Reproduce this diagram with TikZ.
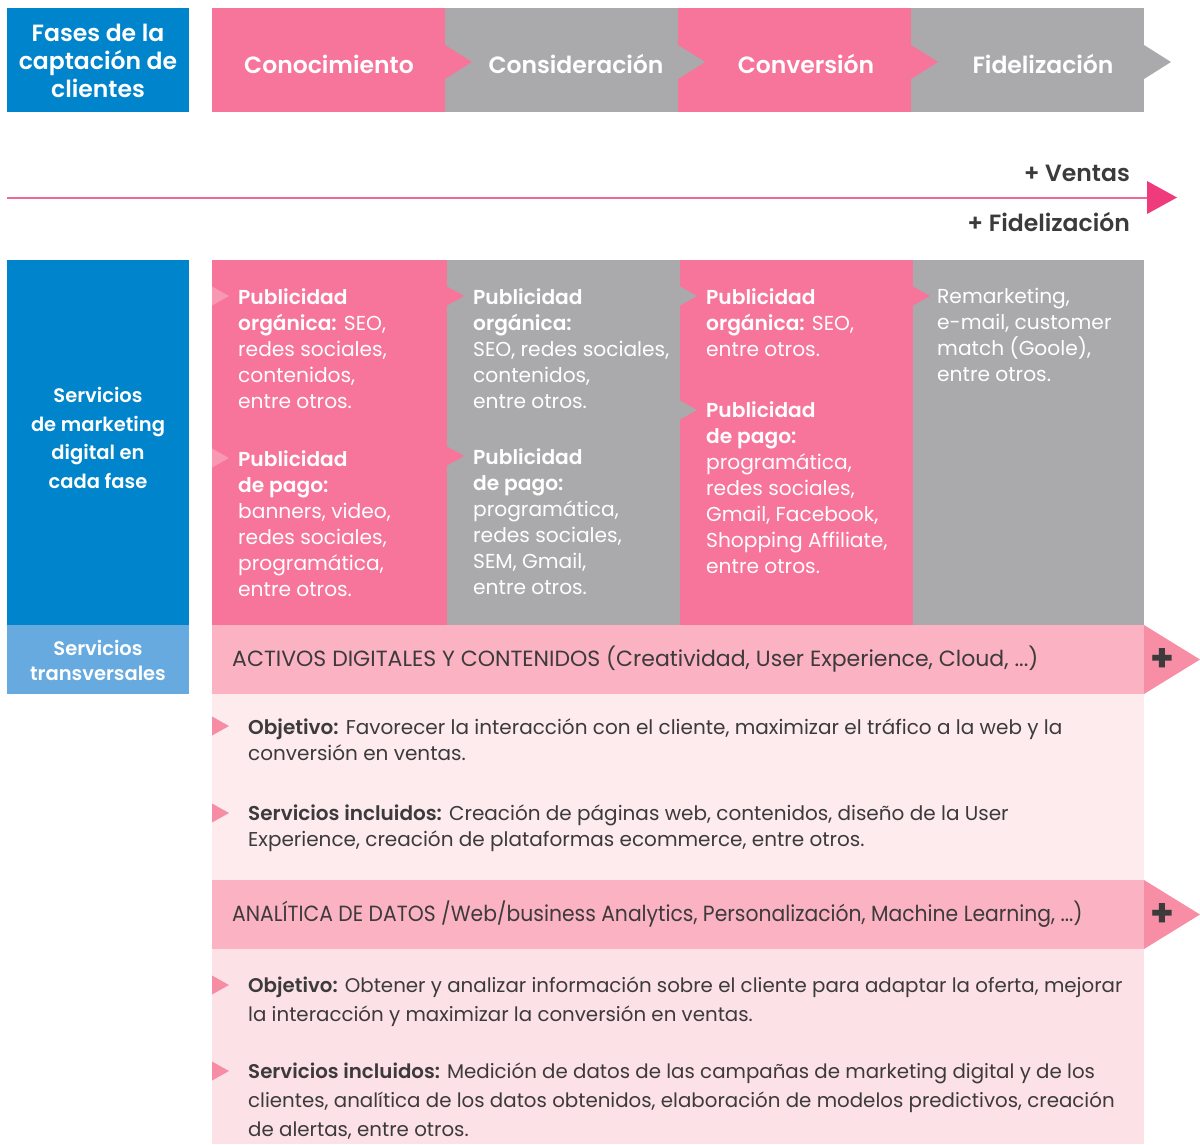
\documentclass[tikz,border=0pt]{standalone}
\usepackage{fontspec}
\setmainfont{Poppins}[BoldFont={Poppins SemiBold}]
\newfontfamily\plusfont{Poppins Bold}
\definecolor{blueD}{HTML}{0084CC}
\definecolor{blueL}{HTML}{66AADF}
\definecolor{pinkC}{HTML}{F7749A}
\definecolor{grayC}{HTML}{AAAAAC}
\definecolor{bandC}{HTML}{FBB3C3}
\definecolor{bandTri}{HTML}{F88DA6}
\definecolor{lightA}{HTML}{FDEBEE}
\definecolor{lightB}{HTML}{FCE1E6}
\definecolor{darkT}{HTML}{3C3A3B}
\definecolor{lineC}{HTML}{F0689A}
\definecolor{headC}{HTML}{EF3B7B}
\definecolor{bulLight}{HTML}{F898B3}
\definecolor{bulPink}{HTML}{F78CA5}
\begin{document}
\begin{tikzpicture}[x=1pt,y=-1pt,
  hdr/.style={text=white,font=\fontsize{23.5}{28}\selectfont\bfseries,inner sep=0pt,align=center},
  lbl/.style={text=white,font=\fontsize{19.5}{28.5}\selectfont\bfseries,inner sep=0pt,align=center},
  coltxt/.style={text=white,font=\fontsize{20.2}{26}\selectfont,inner sep=0pt,align=left,anchor=north west},
  bandtxt/.style={text=darkT,font=\fontsize{22}{26}\selectfont,inner sep=0pt,anchor=west},
  bodytxt/.style={text=darkT,font=\fontsize{20}{26}\selectfont,inner sep=0pt,align=left,anchor=north west},
  sidetxt/.style={text=darkT,font=\fontsize{23.5}{28}\selectfont\bfseries,inner sep=0pt,anchor=east},
  plustxt/.style={text=darkT,font=\fontsize{38}{40}\selectfont\plusfont,inner sep=0pt}
]
\useasboundingbox (0,0) rectangle (1200,1144);
% ---------- header ----------
\fill[blueD] (7,8) rectangle (189,112);
\node[hdr] (fases) at (98,61) {Fases de la\\captación de\\clientes};
\fill[pinkC] (212,8) rectangle (445,112);
\fill[grayC] (445,8) rectangle (678,112);
\fill[pinkC] (678,8) rectangle (911,112);
\fill[grayC] (911,8) rectangle (1144,112);
\fill[pinkC] (445,45) -- (472,62) -- (445,79) -- cycle;
\fill[grayC] (678,45) -- (705,62) -- (678,79) -- cycle;
\fill[pinkC] (911,45) -- (938,62) -- (911,79) -- cycle;
\fill[grayC] (1144,45) -- (1171,62) -- (1144,79) -- cycle;
\node[hdr] (f1) at (329,64) {Conocimiento};
\node[hdr] (f2) at (576,64) {Consideración};
\node[hdr] (f3) at (806,64) {Conversión};
\node[hdr] (f4) at (1043,64) {Fidelización};
% ---------- arrow ----------
\coordinate (a0) at (7,196.5);
\coordinate (a1) at (1150,198.5);
\fill[lineC] (a0) rectangle (a1);
\fill[headC] (1147,181) -- (1177,197.5) -- (1147,214) -- cycle;
\node[sidetxt] (ventas) at (1130,173) {+ Ventas};
\node[sidetxt] (fidel) at (1130,222) {+ Fidelización};
% ---------- left labels ----------
\fill[blueD] (7,260) rectangle (189,625);
\node[lbl] (serv) at (98,438) {Servicios\\de marketing\\digital en\\cada fase};
\fill[blueL] (7,625) rectangle (189,694);
\node[lbl,font=\fontsize{19.5}{25}\selectfont\bfseries] (trans) at (98,660) {Servicios\\transversales};
% ---------- columns ----------
\fill[pinkC] (212,260) rectangle (447,625);
\fill[grayC] (447,260) rectangle (680,625);
\fill[pinkC] (680,260) rectangle (913,625);
\fill[grayC] (913,260) rectangle (1144,625);
\foreach \y in {296,458} \fill[bulLight] (212,\y-9.5) -- (229,\y) -- (212,\y+9.5) -- cycle;
\foreach \y in {296,456} \fill[pinkC] (447,\y-9.5) -- (464,\y) -- (447,\y+9.5) -- cycle;
\foreach \y in {296,410} \fill[grayC] (680,\y-9.5) -- (697,\y) -- (680,\y+9.5) -- cycle;
\fill[pinkC] (913,286.5) -- (930,296) -- (913,305.5) -- cycle;
\node[coltxt] (c1a) at (238,288) {\textbf{Publicidad}\\\textbf{orgánica:} SEO,\\redes sociales,\\contenidos,\\entre otros.};
\node[coltxt] (c1b) at (238,450) {\textbf{Publicidad}\\\textbf{de pago:}\\banners, video,\\redes sociales,\\programática,\\entre otros.};
\node[coltxt] (c2a) at (473,288) {\textbf{Publicidad}\\\textbf{orgánica:}\\SEO, redes sociales,\\contenidos,\\entre otros.};
\node[coltxt] (c2b) at (473,448) {\textbf{Publicidad}\\\textbf{de pago:}\\programática,\\redes sociales,\\SEM, Gmail,\\entre otros.};
\node[coltxt] (c3a) at (706,288) {\textbf{Publicidad}\\\textbf{orgánica:} SEO,\\entre otros.};
\node[coltxt] (c3b) at (706,401) {\textbf{Publicidad}\\\textbf{de pago:}\\programática,\\redes sociales,\\Gmail, Facebook,\\Shopping Affiliate,\\entre otros.};
\node[coltxt] (c4a) at (937,288) {Remarketing,\\e-mail, customer\\match (Goole),\\entre otros.};
% ---------- band 1 ----------
\fill[bandC] (212,625) rectangle (1144,694);
\fill[bandTri] (1144,625) -- (1200,659.5) -- (1144,694) -- cycle;
\node[bandtxt] (b1) at (232,659.5) {ACTIVOS DIGITALES Y CONTENIDOS (Creatividad, User Experience, Cloud, ...)};
\node[plustxt] (p1) at (1162,659.5) {+};
\fill[lightA] (212,694) rectangle (1144,880);
\foreach \y in {726,813} \fill[bulPink] (212,\y-9.5) -- (229,\y) -- (212,\y+9.5) -- cycle;
\node[bodytxt] (o1) at (248,719) {\textbf{Objetivo:} Favorecer la interacción con el cliente, maximizar el tráfico a la web y la\\conversión en ventas.};
\node[bodytxt] (s1) at (248,805) {\textbf{Servicios incluidos:} Creación de páginas web, contenidos, diseño de la User\\Experience, creación de plataformas ecommerce, entre otros.};
% ---------- band 2 ----------
\fill[bandC] (212,880) rectangle (1144,949);
\fill[bandTri] (1144,880) -- (1200,914.5) -- (1144,949) -- cycle;
\node[bandtxt] (b2) at (232,914.5) {\scalebox{0.924}[1]{ANALÍTICA DE DATOS /Web/business Analytics, Personalización, Machine Learning, ...)}};
\node[plustxt] (p2) at (1162,914.5) {+};
\fill[lightB] (212,949) rectangle (1144,1144);
\foreach \y in {985,1071} \fill[bulPink] (212,\y-9.5) -- (229,\y) -- (212,\y+9.5) -- cycle;
\node[bodytxt,font=\fontsize{19.8}{28.5}\selectfont] (o2) at (248,977) {\textbf{Objetivo:} Obtener y analizar información sobre el cliente para adaptar la oferta, mejorar\\la interacción y maximizar la conversión en ventas.};
\node[bodytxt,font=\fontsize{19.8}{28.8}\selectfont] (s2) at (248,1063) {\textbf{Servicios incluidos:} Medición de datos de las campañas de marketing digital y de los\\clientes, analítica de los datos obtenidos, elaboración de modelos predictivos, creación\\de alertas, entre otros.};
\end{tikzpicture}
\end{document}
